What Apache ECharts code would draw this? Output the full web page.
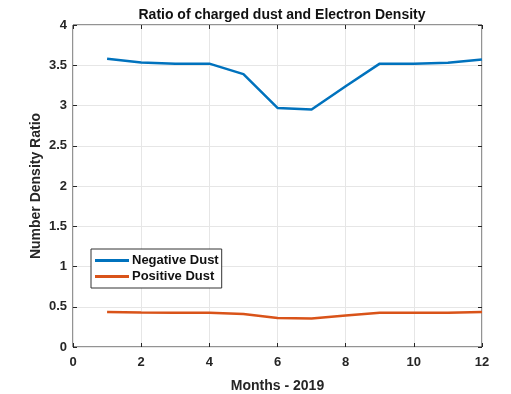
<!DOCTYPE html>
<html><head><meta charset="utf-8">
<script src="https://cdn.jsdelivr.net/npm/echarts@6/dist/echarts.min.js"></script>
<style>html,body{margin:0;padding:0;background:#fff}#c{width:511px;height:394px}</style>
</head><body><div id="c"></div>
<script>
const months = [1,2,3,4,5,6,7,8,9,10,11,12];
const negativeDust = [3.58,3.535,3.52,3.52,3.39,2.97,2.95,3.24,3.52,3.52,3.53,3.57];
const positiveDust = [0.435,0.428,0.426,0.426,0.41,0.36,0.355,0.39,0.425,0.425,0.427,0.435];
const xTicks = [0,2,4,6,8,10,12];
const yTicks = [0,0.5,1,1.5,2,2.5,3,3.5,4];

const chart = echarts.init(document.getElementById('c'));
const font = 'Liberation Sans, Arial, sans-serif';
const tick = () => ({show: true, inside: true, length: 4, lineStyle: {color: '#262626', width: 1}});
chart.setOption({
  backgroundColor: '#fff',
  animation: false,
  title: {
    text: 'Ratio of charged dust and Electron Density',
    left: 277, top: 3, textAlign: 'center',
    textStyle: {fontFamily: font, fontSize: 14, fontWeight: 'bold', color: '#111'}
  },
  legend: {
    left: 91, top: 249, orient: 'vertical',
    itemWidth: 34, itemHeight: 3, itemGap: 3,
    padding: [5, 3, 5, 4],
    borderColor: '#333', borderWidth: 1, backgroundColor: '#fff',
    icon: 'rect',
    textStyle: {fontFamily: font, fontSize: 13, fontWeight: 'bold', color: '#111', padding: [0,0,0,-2]},
    data: ['Negative Dust', 'Positive Dust']
  },
  grid: {left: 73, right: 29, top: 25, bottom: 47, outerBoundsMode: 'none', containLabel: false,
    show: true, borderColor: '#262626', borderWidth: 1, backgroundColor: '#fff'},
  xAxis: [{
    type: 'value', position: 'bottom', min: 0, max: 12, interval: 2,
    name: 'Months - 2019', nameLocation: 'middle', nameGap: 32,
    nameTextStyle: {fontFamily: font, fontSize: 14, fontWeight: 'bold', color: '#262626'},
    axisLine: {show: false, onZero: false},
    axisTick: tick(),
    axisLabel: {fontFamily: font, fontSize: 13, fontWeight: 'bold', color: '#262626', margin: 9,
      formatter: v => xTicks.includes(v) ? String(v) : ''},
    splitLine: {show: true, lineStyle: {color: '#e6e6e6', width: 1}}
  }, {
    type: 'value', position: 'top', min: 0, max: 12, interval: 2,
    axisLine: {show: false, onZero: false}, axisTick: tick(), axisLabel: {show: false}, splitLine: {show: false}
  }],
  yAxis: [{
    type: 'value', position: 'left', min: 0, max: 4, interval: 0.5,
    name: 'Number Density Ratio', nameLocation: 'middle', nameGap: 30, nameMoveOverlap: false,
    nameTextStyle: {fontFamily: font, fontSize: 14, fontWeight: 'bold', color: '#262626'},
    axisLine: {show: false, onZero: false},
    axisTick: tick(),
    axisLabel: {fontFamily: font, fontSize: 13, fontWeight: 'bold', color: '#262626', margin: 6,
      formatter: v => yTicks.includes(v) ? String(v) : ''},
    splitLine: {show: true, lineStyle: {color: '#e6e6e6', width: 1}}
  }, {
    type: 'value', position: 'right', min: 0, max: 4, interval: 0.5,
    axisLine: {show: false, onZero: false}, axisTick: tick(), axisLabel: {show: false}, splitLine: {show: false}
  }],
  series: [
    {name: 'Negative Dust', type: 'line', data: months.map((m,i)=>[m, negativeDust[i]]),
     showSymbol: false, symbol: 'none', lineStyle: {width: 2.5, color: '#0072BD'}, itemStyle: {color: '#0072BD'}},
    {name: 'Positive Dust', type: 'line', data: months.map((m,i)=>[m, positiveDust[i]]),
     showSymbol: false, symbol: 'none', lineStyle: {width: 2.5, color: '#D95319'}, itemStyle: {color: '#D95319'}}
  ]
});
</script></body></html>
